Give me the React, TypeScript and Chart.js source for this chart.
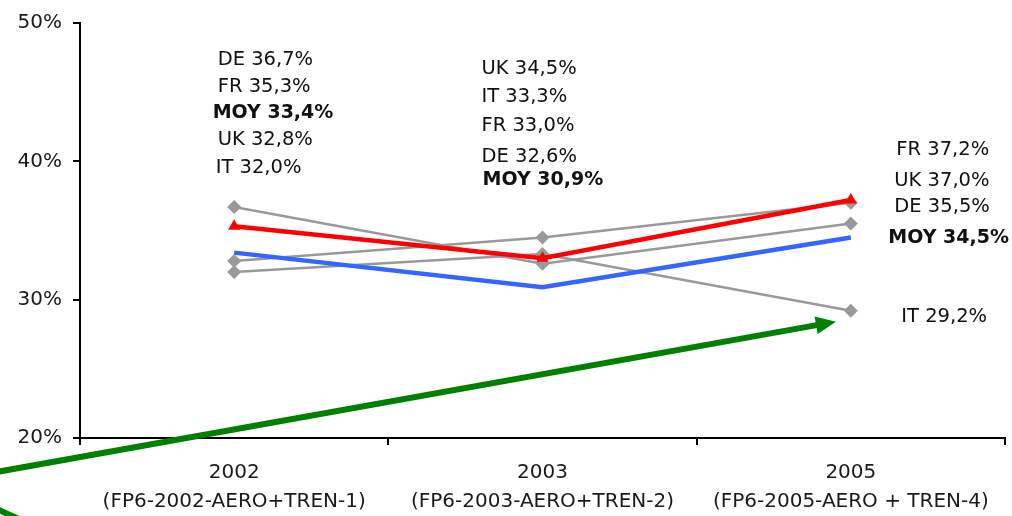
import React, { useEffect, useRef } from 'react';
import { Chart, registerables } from 'chart.js';

Chart.register(...registerables);

// ---- data ----
const categories = ['2002', '2003', '2005'];
const callNames = ['(FP6-2002-AERO+TREN-1)', '(FP6-2003-AERO+TREN-2)', '(FP6-2005-AERO + TREN-4)'];
const DE = [36.7, 32.6, 35.5];
const FR = [35.3, 33.0, 37.2];
const UK = [32.8, 34.5, 37.0];
const IT = [32.0, 33.3, 29.2];
const MOY = [33.4, 30.9, 34.5];
const yMin = 20;
const yMax = 50;
const yStep = 10;

const seriesByName: Record<string, number[]> = { DE, FR, UK, IT, MOY };

// ---- label layout (order of the text stack beside each category) ----
const labelOrder = [
  ['DE', 'FR', 'MOY', 'UK', 'IT'],
  ['UK', 'IT', 'FR', 'DE', 'MOY'],
  ['FR', 'UK', 'DE', 'MOY', 'IT'],
];
// vertical anchor of each text line, in axis units
const labelAnchor = [
  [47.34, 45.41, 43.47, 41.53, 39.52],
  [46.7, 44.62, 42.53, 40.31, 38.66],
  [40.81, 38.59, 36.72, 34.42, 28.75],
];
// horizontal offset (px) of the text's left edge from the category centre
const labelDx = [
  [-16.5, -16.5, -21.5, -16.5, -18.5],
  [-61, -61, -61, -61, -60],
  [45.5, 43.5, 43.5, 37.5, 50.5],
];

const fmt = (v: number) => v.toFixed(1).replace('.', ',') + '%';

const overlayPlugin = {
  id: 'overlay',
  afterDraw(chart: any) {
    const ctx = chart.ctx as CanvasRenderingContext2D;
    const xs = chart.scales.x;
    const ys = chart.scales.y;
    ctx.save();
    ctx.textBaseline = 'middle';
    ctx.textAlign = 'left';
    labelOrder.forEach((col, ci) => {
      const cx = xs.getPixelForValue(ci);
      col.forEach((name, li) => {
        const bold = name === 'MOY';
        ctx.font = bold ? 'bold 19px "DejaVu Sans"' : '19.5px "DejaVu Sans"';
        ctx.fillStyle = '#111';
        const text = name + ' ' + fmt(seriesByName[name][ci]);
        ctx.fillText(text, cx + labelDx[ci][li], ys.getPixelForValue(labelAnchor[ci][li]));
      });
    });

    // green arrow pointing at the IT 2005 point
    const px = xs.getPixelForValue(2);
    const py = ys.getPixelForValue(IT[2]);
    const tipX = px - 15;
    const tipY = py + 11;
    const startX = tipX - 870;
    const startY = tipY + 870 * (150 / 838);
    const ang = Math.atan2(tipY - startY, tipX - startX);
    const headLen = 20;
    const headHalf = 9;
    const baseX = tipX - headLen * Math.cos(ang);
    const baseY = tipY - headLen * Math.sin(ang);
    ctx.strokeStyle = '#008000';
    ctx.fillStyle = '#008000';
    ctx.lineWidth = 6;
    ctx.beginPath();
    ctx.moveTo(startX, startY);
    ctx.lineTo(baseX + 2 * Math.cos(ang), baseY + 2 * Math.sin(ang));
    ctx.stroke();
    ctx.beginPath();
    ctx.moveTo(tipX, tipY);
    ctx.lineTo(baseX - headHalf * Math.sin(ang), baseY + headHalf * Math.cos(ang));
    ctx.lineTo(baseX + headHalf * Math.sin(ang), baseY - headHalf * Math.cos(ang));
    ctx.closePath();
    ctx.fill();

    // second green stroke entering at bottom-left corner
    ctx.beginPath();
    ctx.moveTo(-10, 506);
    ctx.lineTo(30, 524);
    ctx.stroke();
    ctx.restore();
  },
};

export default function App() {
  const ref = useRef<HTMLCanvasElement>(null);
  useEffect(() => {
    if (!ref.current) return;
    const gray = '#999999';
    const chart = new Chart(ref.current, {
      type: 'line',
      data: {
        labels: categories.map((c, i) => [c, callNames[i]]),
        datasets: [
          {
            label: 'FR', data: FR, borderColor: '#ff0000', backgroundColor: '#ff0000', borderWidth: 4.5,
            pointStyle: 'triangle', pointRadius: 7, pointBorderWidth: 0, order: 0, tension: 0,
          },
          {
            label: 'MOY', data: MOY, borderColor: '#3366ff', backgroundColor: '#3366ff', borderWidth: 4.5,
            pointRadius: 0, order: 1, tension: 0,
          },
          {
            label: 'DE', data: DE, borderColor: gray, backgroundColor: gray, borderWidth: 2.5,
            pointStyle: 'rectRot', pointRadius: 7, pointBorderWidth: 0, order: 2, tension: 0,
          },
          {
            label: 'UK', data: UK, borderColor: gray, backgroundColor: gray, borderWidth: 2.5,
            pointStyle: 'rectRot', pointRadius: 7, pointBorderWidth: 0, order: 2, tension: 0,
          },
          {
            label: 'IT', data: IT, borderColor: gray, backgroundColor: gray, borderWidth: 2.5,
            pointStyle: 'rectRot', pointRadius: 7, pointBorderWidth: 0, order: 2, tension: 0,
          },
        ],
      },
      options: {
        responsive: false,
        animation: false,
        layout: { padding: { top: 20, right: 5, left: 0, bottom: 0 } },
        plugins: { legend: { display: false }, tooltip: { enabled: false }, title: { display: false } },
        scales: {
          x: {
            offset: true,
            grid: { display: true, offset: true, drawOnChartArea: false, drawTicks: true, tickLength: 7, color: '#000', lineWidth: 2 },
            border: { display: true, color: '#000', width: 2 },
            ticks: {
              color: '#1a1a1a', padding: 13,
              font: { family: 'DejaVu Sans', size: 20, lineHeight: 1.45 },
              maxRotation: 0, autoSkip: false,
            },
            afterFit: (s: any) => { s.height = 78; },
          },
          y: {
            min: yMin, max: yMax,
            grid: { display: true, drawOnChartArea: false, drawTicks: true, tickLength: 7, color: '#000', lineWidth: 2 },
            border: { display: true, color: '#000', width: 2 },
            ticks: {
              stepSize: yStep, color: '#1a1a1a', padding: 11,
              font: { family: 'DejaVu Sans', size: 20 },
              callback: (v: any) => v + '%',
            },
            afterFit: (s: any) => { s.width = 80; },
          },
        },
      },
      plugins: [overlayPlugin],
    });
    return () => chart.destroy();
  }, []);
  return (
    <div style={{ position: 'fixed', left: 0, top: 0, width: 1012, height: 516, background: '#fff' }}>
      <canvas ref={ref} width={1012} height={516} style={{ display: 'block' }} />
    </div>
  );
}
